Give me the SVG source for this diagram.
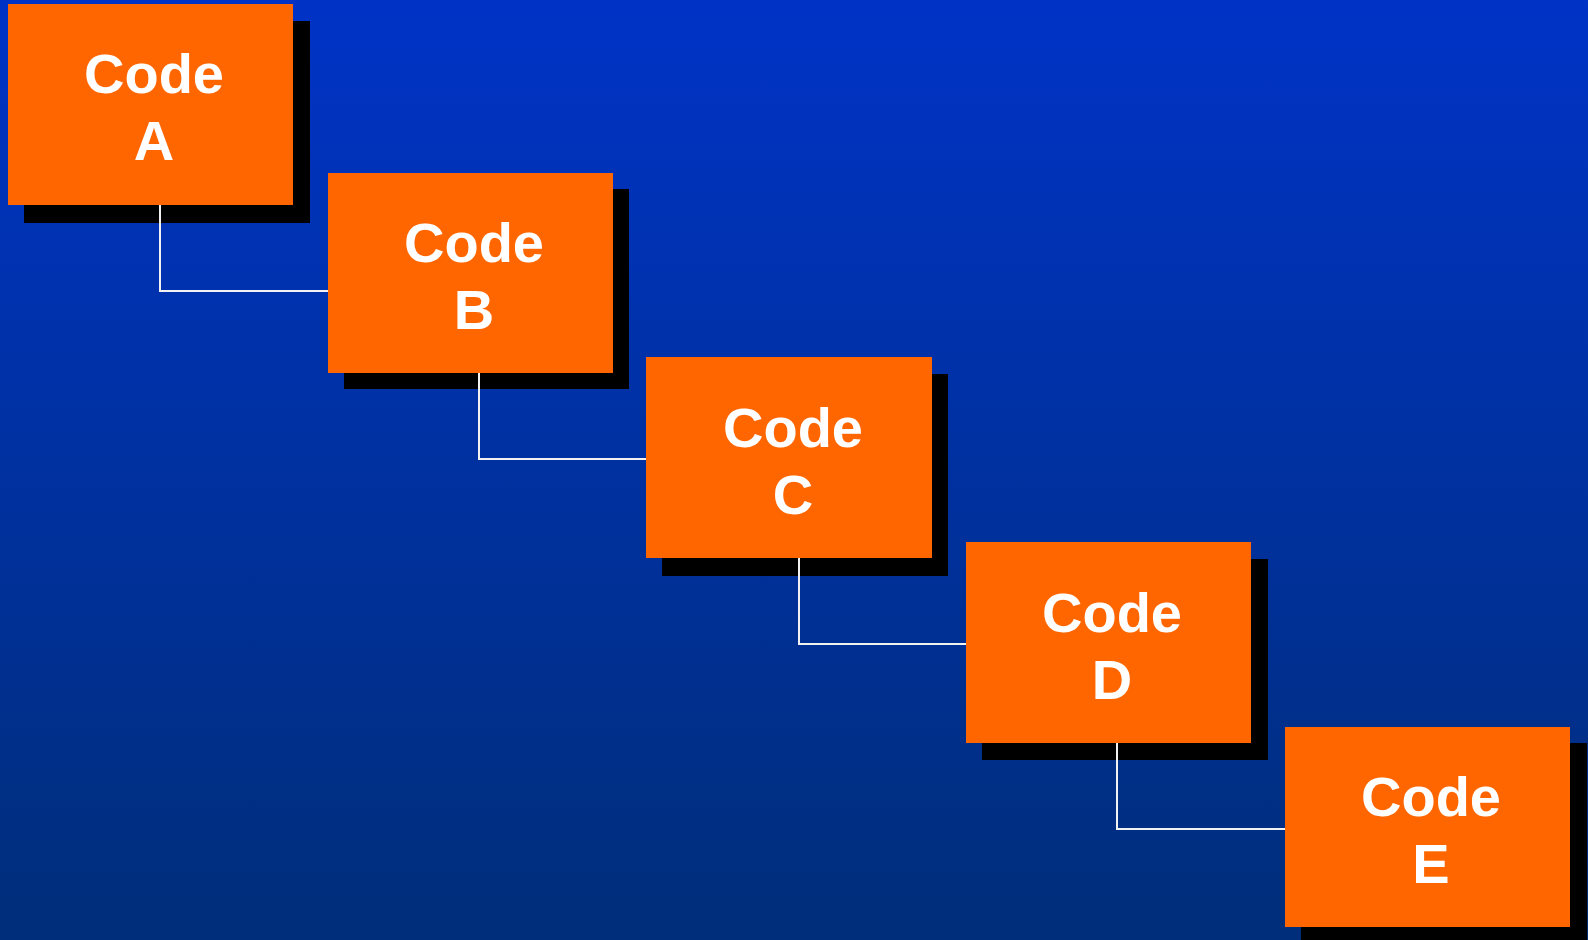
<svg xmlns="http://www.w3.org/2000/svg" width="1588" height="940" viewBox="0 0 1588 940">
  <defs>
    <linearGradient id="bg" x1="0" y1="0" x2="0" y2="1">
      <stop offset="0" stop-color="#0033C6"/>
      <stop offset="1" stop-color="#002E7A"/>
    </linearGradient>
  </defs>
  <style>
    .shadow { fill: #000000; }
    .box { fill: #FF6600; }
    .label { fill: #FFFFFF; font-family: "Liberation Sans", Arial, sans-serif; font-weight: bold; font-size: 56px; text-anchor: middle; }
    .conn { fill: none; stroke: #F2F2F2; stroke-width: 2; }
  </style>
  <rect x="0" y="0" width="1588" height="940" fill="url(#bg)"/>

  <g id="node-a">
    <rect class="shadow" x="24" y="21" width="286" height="202"/>
    <rect class="box" x="8" y="4" width="285" height="201"/>
    <text class="label" x="154" y="93">Code</text>
    <text class="label" x="154" y="160">A</text>
  </g>
  <g id="node-b">
    <rect class="shadow" x="344" y="189" width="285" height="200"/>
    <rect class="box" x="328" y="173" width="285" height="200"/>
    <text class="label" x="474" y="262">Code</text>
    <text class="label" x="474" y="329">B</text>
  </g>
  <g id="node-c">
    <rect class="shadow" x="662" y="374" width="286" height="202"/>
    <rect class="box" x="646" y="357" width="286" height="201"/>
    <text class="label" x="793" y="447">Code</text>
    <text class="label" x="793" y="514">C</text>
  </g>
  <g id="node-d">
    <rect class="shadow" x="982" y="559" width="286" height="201"/>
    <rect class="box" x="966" y="542" width="285" height="201"/>
    <text class="label" x="1112" y="632">Code</text>
    <text class="label" x="1112" y="699">D</text>
  </g>
  <g id="node-e">
    <rect class="shadow" x="1301" y="743" width="286" height="201"/>
    <rect class="box" x="1285" y="727" width="285" height="200"/>
    <text class="label" x="1431" y="816">Code</text>
    <text class="label" x="1431" y="883">E</text>
  </g>

  <g id="connectors">
    <polyline class="conn" points="160,205 160,291 328,291"/>
    <polyline class="conn" points="479,373 479,459 646,459"/>
    <polyline class="conn" points="799,558 799,644 966,644"/>
    <polyline class="conn" points="1117,743 1117,829 1285,829"/>
  </g>
</svg>
